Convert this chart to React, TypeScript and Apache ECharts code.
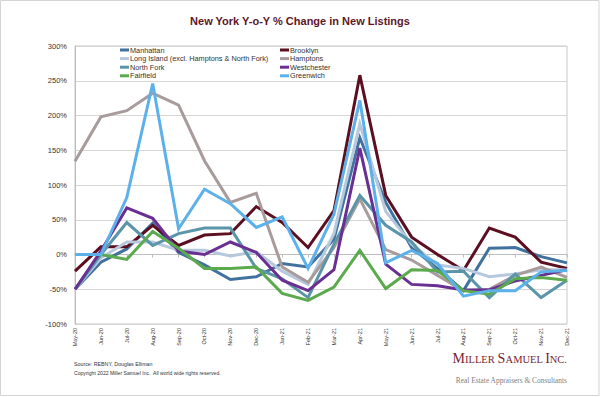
import React, { useEffect, useRef } from "react";
import * as echarts from "echarts";

const categories = [
  "May-20", "Jun-20", "Jul-20", "Aug-20", "Sep-20", "Oct-20", "Nov-20", "Dec-20",
  "Jan-21", "Feb-21", "Mar-21", "Apr-21", "May-21", "Jun-21", "Jul-21", "Aug-21",
  "Sep-21", "Oct-21", "Nov-21", "Dec-21",
];

const manhattan = [-50, -11, 8, 45, 3, -15, -36, -32, -13, -18, 22, 168, 75, 10, -20, -52, 9, 10, -3, -12];
const brooklyn = [-24, 11, 11, 42, 13, 28, 30, 69, 46, 10, 63, 258, 85, 25, 0, -23, 38, 25, -11, -20];
const longIsland = [-50, -5, 18, 18, 6, 6, -2, 4, -24, -43, 30, 188, 62, 15, -15, -20, -32, -28, -22, -22];
const hamptons = [134, 198, 207, 232, 215, 135, 75, 88, -18, -40, 10, 80, 7, -8, -30, -52, -50, -30, -18, -33];
const northFork = [-50, 0, 46, 13, 30, 38, 38, -20, -35, -62, 15, 85, 42, 18, -25, -24, -62, -28, -62, -37];
const westchester = [-50, 5, 67, 52, 5, 0, 18, 3, -37, -52, -22, 153, -14, -43, -45, -51, -51, -38, -30, -22];
const fairfield = [0, 0, -7, 33, 9, -20, -20, -18, -56, -66, -47, 6, -49, -22, -23, -52, -57, -35, -33, -37];
const greenwich = [0, 0, 82, 246, 37, 94, 73, 39, 54, -20, 58, 222, -12, 6, -13, -60, -52, -52, -25, -23];

const yTicks = { min: -100, max: 300, interval: 50 };

const seriesDefs = [
  { name: "Manhattan", data: manhattan, color: "#41719e" },
  { name: "Brooklyn", data: brooklyn, color: "#5c0f20" },
  { name: "Long Island (excl. Hamptons & North Fork)", data: longIsland, color: "#b5c8dc" },
  { name: "Hamptons", data: hamptons, color: "#a89b9c" },
  { name: "North Fork", data: northFork, color: "#5b95a9" },
  { name: "Westchester", data: westchester, color: "#6a2f93" },
  { name: "Fairfield", data: fairfield, color: "#5bab4e" },
  { name: "Greenwich", data: greenwich, color: "#5db1ea" },
];

const FONT = "'Liberation Sans', Arial, sans-serif";
const SERIF = "'Liberation Serif', 'Times New Roman', serif";

export default function App() {
  const ref = useRef<HTMLDivElement>(null);
  useEffect(() => {
    if (!ref.current) return;
    const chart = echarts.init(ref.current, undefined, { renderer: "svg" });
    const legendCommon = {
      orient: "vertical" as const,
      top: 46,
      icon: "rect",
      itemWidth: 9,
      itemHeight: 3,
      itemGap: 0.6,
      padding: 0,
      textStyle: { fontFamily: FONT, fontSize: 7.3, color: "#333", lineHeight: 8, padding: [0, 0, 0, -4] },
      selectedMode: false,
    };
    chart.setOption({
      animation: false,
      backgroundColor: "#ffffff",
      title: {
        text: "New York Y-o-Y % Change in New Listings",
        left: "center",
        top: 10,
        textStyle: { fontFamily: FONT, fontSize: 11, fontWeight: "bold", color: "#5e1627" },
      },
      legend: [
        { ...legendCommon, left: 120, data: ["Manhattan", "Long Island (excl. Hamptons & North Fork)", "North Fork", "Fairfield"] },
        { ...legendCommon, left: 280, data: ["Brooklyn", "Hamptons", "Westchester", "Greenwich"] },
      ],
      grid: {
        left: 75,
        right: 33,
        top: 46,
        bottom: 73,
        show: true,
        borderColor: "#c8c8c8",
        borderWidth: 1,
      },
      xAxis: {
        type: "category",
        data: categories,
        boundaryGap: false,
        axisLine: { lineStyle: { color: "#bdbdbd", width: 1 } },
        axisTick: { show: true, length: 3, lineStyle: { color: "#bdbdbd" } },
        axisLabel: { rotate: 90, fontFamily: FONT, fontSize: 5.5, color: "#333", margin: 4, interval: 0 },
      },
      yAxis: {
        type: "value",
        min: yTicks.min,
        max: yTicks.max,
        interval: yTicks.interval,
        axisLine: { show: true, lineStyle: { color: "#bdbdbd", width: 1 } },
        axisTick: { show: false },
        splitLine: { lineStyle: { color: "#d6d6d6", width: 1 } },
        axisLabel: { formatter: "{value}%", fontFamily: FONT, fontSize: 7.5, color: "#333", margin: 8 },
      },
      series: seriesDefs.map((s) => ({
        name: s.name,
        type: "line",
        data: s.data,
        symbol: "none",
        color: s.color,
        lineStyle: { width: 3, color: s.color, join: "miter" },
      })),
      graphic: [
        {
          type: "rect",
          shape: { x: 0.5, y: 0.5, width: 598.5, height: 395 },
          style: { fill: "none", stroke: "#d4d4d4", lineWidth: 1 },
          silent: true,
        },
        {
          type: "text",
          x: 74,
          y: 364,
          style: { text: "Source: REBNY, Douglas Elliman", fontFamily: FONT, fontSize: 5.3, fill: "#333", verticalAlign: "middle" },
        },
        {
          type: "text",
          x: 74,
          y: 373,
          style: {
            text: "Copyright 2022 Miller Samuel Inc.  All world wide rights reserved.",
            fontFamily: FONT,
            fontSize: 5.1,
            fill: "#333",
            verticalAlign: "middle",
          },
        },
        {
          type: "text",
          x: 567,
          y: 365,
          style: {
            text: "{b|M}{s|ILLER }{b|S}{s|AMUEL }{b|I}{s|NC.}",
            align: "right",
            verticalAlign: "bottom",
            rich: {
              b: { fontFamily: SERIF, fontSize: 14, fill: "#7a2432", verticalAlign: "bottom" },
              s: { fontFamily: SERIF, fontSize: 10.5, fill: "#7a2432", verticalAlign: "bottom" },
            },
          },
        },
        {
          type: "text",
          x: 567,
          y: 380,
          style: {
            text: "Real Estate Appraisers & Consultants",
            align: "right",
            verticalAlign: "middle",
            fontFamily: SERIF,
            fontSize: 7.4,
            fill: "#7f7f7f",
          },
        },
      ],
    });
    return () => chart.dispose();
  }, []);
  return <div ref={ref} style={{ position: "fixed", left: 0, top: 0, width: 600, height: 397 }} />;
}
